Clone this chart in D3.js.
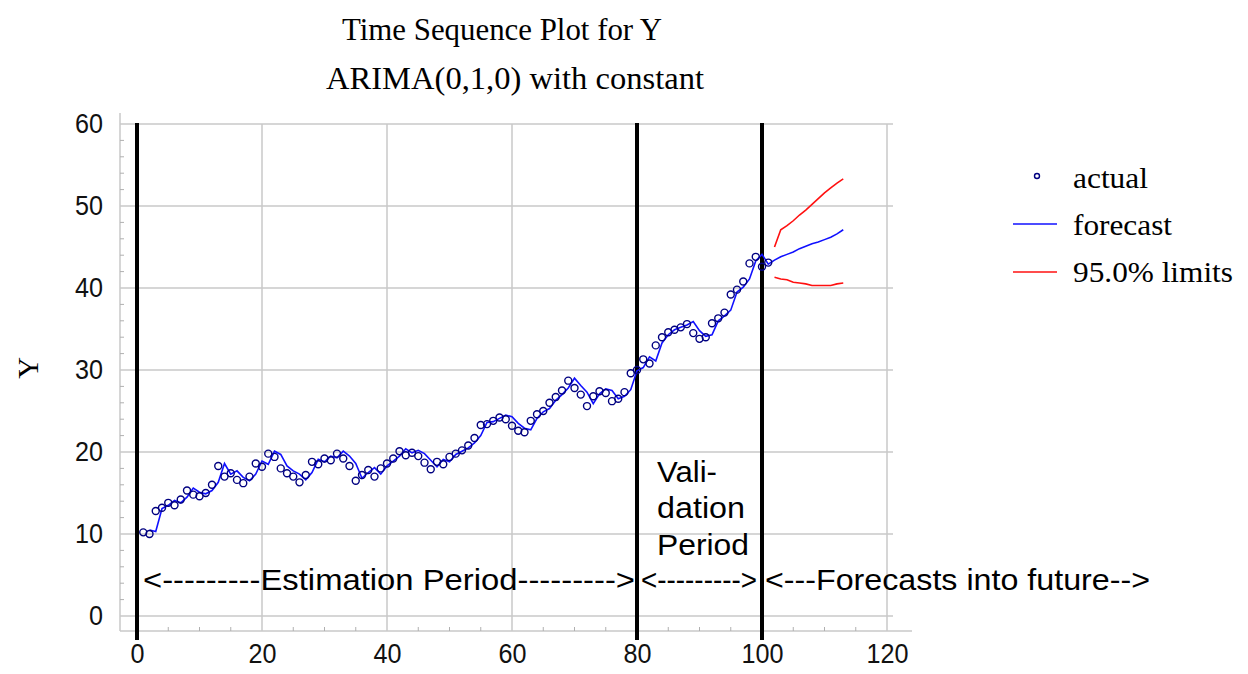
<!DOCTYPE html>
<html>
<head>
<meta charset="utf-8">
<script src="https://cdn.jsdelivr.net/npm/d3@7"></script>
<style>
  body { margin: 0; background: #fff; }
  svg { display: block; }
</style>
</head>
<body>
<div id="chart"></div>
<script>
"use strict";

// actual Y values, periods 1..101
var actual = [10.2, 10.0, 12.8, 13.2, 13.8, 13.5, 14.2, 15.3, 14.8, 14.6,
    15.0, 16.0, 18.3, 17.0, 17.4, 16.6, 16.2, 17.0, 18.6, 18.2,
    19.8, 19.4, 18.0, 17.4, 17.0, 16.3, 17.2, 18.8, 18.5, 19.2,
    19.0, 19.8, 19.2, 18.3, 16.5, 17.2, 17.8, 17.0, 18.0, 18.6,
    19.2, 20.1, 19.6, 19.9, 19.5, 18.7, 17.9, 18.8, 18.5, 19.4,
    19.8, 20.2, 20.8, 21.7, 23.3, 23.4, 23.8, 24.2, 24.0, 23.2,
    22.6, 22.4, 23.8, 24.6, 25.0, 26.0, 26.7, 27.5, 28.7, 27.8,
    27.0, 25.6, 26.8, 27.4, 27.2, 26.2, 26.5, 27.3, 29.6, 30.0,
    31.3, 30.8, 33.0, 34.0, 34.6, 34.9, 35.2, 35.6, 34.5, 33.8,
    34.0, 35.7, 36.3, 37.0, 39.2, 39.8, 40.8, 43.0, 43.8, 42.6,
    43.1];

// forecast line, periods 2..113 (one-step fitted, then out of sample)
var forecast = [10.5, 10.3, 13.1, 13.5, 14.1, 13.8, 14.5, 15.6, 15.1,
    14.9, 15.3, 16.3, 18.6, 17.3, 17.7, 16.9, 16.5, 17.3, 18.9,
    18.5, 20.1, 19.7, 18.3, 17.7, 17.3, 16.6, 17.5, 19.1, 18.8,
    19.5, 19.3, 20.1, 19.5, 18.6, 16.8, 17.5, 18.1, 17.3, 18.3,
    18.9, 19.5, 20.4, 19.9, 20.2, 19.8, 19.0, 18.2, 19.1, 18.8,
    19.7, 20.1, 20.5, 21.1, 22.0, 23.6, 23.7, 24.1, 24.5, 24.3,
    23.5, 22.9, 22.7, 24.1, 24.9, 25.3, 26.3, 27.0, 27.8, 29.0,
    28.1, 27.3, 25.9, 27.1, 27.7, 27.5, 26.5, 26.8, 27.6, 29.9,
    30.3, 31.6, 31.1, 33.3, 34.3, 34.9, 35.2, 35.5, 35.9, 34.8,
    34.1, 34.3, 36.0, 36.6, 37.3, 39.5, 40.1, 41.1, 43.3, 44.1,
    42.9,
    43.4, 43.8, 44.1, 44.4, 44.8, 45.1, 45.4, 45.6, 45.9, 46.2, 46.6, 47.1];

// 95% limits, periods 102..113
var upper = [45.0, 47.1, 47.6, 48.2, 48.9, 49.5, 50.2, 50.9, 51.6, 52.2, 52.8, 53.3];
var lower = [41.3, 41.1, 41.0, 40.7, 40.6, 40.5, 40.3, 40.3, 40.3, 40.3, 40.5, 40.6];

var xTicks = [0, 20, 40, 60, 80, 100, 120];
var yTicks = [0, 10, 20, 30, 40, 50, 60];
var periodLines = [0, 80, 100];

var W = 1248, H = 674;
var grey = "#c8c8c8";
var sans = "'Liberation Sans Narrow', 'Liberation Sans', Arial, sans-serif";
var serif = "'Liberation Serif', 'Times New Roman', serif";

var svg = d3.select("#chart").append("svg")
    .attr("width", W)
    .attr("height", H);

// scales
var x = d3.scaleLinear().domain([0, 120]).range([137, 887]);
var y = d3.scaleLinear().domain([0, 60]).range([616, 124]);

// gridlines
svg.append("g")
    .selectAll("line")
    .data(xTicks.slice(1))
    .enter().append("line")
    .attr("x1", function (d) { return x(d); })
    .attr("x2", function (d) { return x(d); })
    .attr("y1", y(60))
    .attr("y2", 631)
    .style("stroke", grey)
    .style("stroke-width", 1.5);

svg.append("g")
    .selectAll("line")
    .data(yTicks)
    .enter().append("line")
    .attr("x1", 120)
    .attr("x2", 893)
    .attr("y1", function (d) { return y(d); })
    .attr("y2", function (d) { return y(d); })
    .style("stroke", grey)
    .style("stroke-width", 1.5);

// axis lines
svg.append("line")
    .attr("x1", 120).attr("x2", 120)
    .attr("y1", 113).attr("y2", 631)
    .style("stroke", grey).style("stroke-width", 1.5);
svg.append("line")
    .attr("x1", 120).attr("x2", 912)
    .attr("y1", 631).attr("y2", 631)
    .style("stroke", grey).style("stroke-width", 1.5);

// minor ticks
var yMinor = d3.range(0, 61, 2).filter(function (d) { return d % 10 !== 0; });
svg.append("g")
    .selectAll("line")
    .data(yMinor)
    .enter().append("line")
    .attr("x1", 120).attr("x2", 124)
    .attr("y1", function (d) { return y(d); })
    .attr("y2", function (d) { return y(d); })
    .style("stroke", "#b0b0b0");

var xMinor = d3.range(0, 121, 5).filter(function (d) { return d % 20 !== 0; });
svg.append("g")
    .selectAll("line")
    .data(xMinor)
    .enter().append("line")
    .attr("x1", function (d) { return x(d); })
    .attr("x2", function (d) { return x(d); })
    .attr("y1", 631).attr("y2", 627)
    .style("stroke", "#b0b0b0");

// tick labels through d3 axes
var yAxis = svg.append("g")
    .attr("transform", "translate(120,0)")
    .call(d3.axisLeft(y).tickValues(yTicks).tickSize(0).tickPadding(17));
var xAxis = svg.append("g")
    .attr("transform", "translate(0,631)")
    .call(d3.axisBottom(x).tickValues(xTicks).tickSize(0).tickPadding(10));
[yAxis, xAxis].forEach(function (a) {
    a.select(".domain").remove();
    a.selectAll("text")
        .style("font-family", sans)
        .style("font-size", "28px")
        .style("fill", "#111")
        .attr("textLength", function (d) { return String(d).length * 14; })
        .attr("lengthAdjust", "spacingAndGlyphs");
});
xAxis.selectAll("text").attr("dy", "0.78em");

// period separators
svg.append("g")
    .selectAll("line")
    .data(periodLines)
    .enter().append("line")
    .attr("x1", function (d) { return x(d); })
    .attr("x2", function (d) { return x(d); })
    .attr("y1", 123).attr("y2", 640)
    .style("stroke", "#000")
    .style("stroke-width", 4);

// forecast line
var line = d3.line()
    .x(function (d) { return x(d.t); })
    .y(function (d) { return y(d.v); });

var fcData = forecast.map(function (v, i) { return { t: i + 2, v: v }; });
var upData = upper.map(function (v, i) { return { t: i + 102, v: v }; });
var loData = lower.map(function (v, i) { return { t: i + 102, v: v }; });

svg.append("path")
    .datum(fcData)
    .attr("d", line)
    .style("fill", "none")
    .style("stroke", "#1010ff")
    .style("stroke-width", 1.6);

[upData, loData].forEach(function (dd) {
    svg.append("path")
        .datum(dd)
        .attr("d", line)
        .style("fill", "none")
        .style("stroke", "#ff1010")
        .style("stroke-width", 1.6);
});

// actual points
svg.append("g")
    .selectAll("circle")
    .data(actual)
    .enter().append("circle")
    .attr("cx", function (d, i) { return x(i + 1); })
    .attr("cy", function (d) { return y(d); })
    .attr("r", 3.5)
    .style("fill", "none")
    .style("stroke", "#000080")
    .style("stroke-width", 1.4);

// titles
svg.append("text")
    .attr("x", 502).attr("y", 40)
    .attr("text-anchor", "middle")
    .attr("textLength", 320).attr("lengthAdjust", "spacingAndGlyphs")
    .style("font-family", serif).style("font-size", "31px")
    .text("Time Sequence Plot for Y");
svg.append("text")
    .attr("x", 515).attr("y", 89)
    .attr("text-anchor", "middle")
    .attr("textLength", 378).attr("lengthAdjust", "spacingAndGlyphs")
    .style("font-family", serif).style("font-size", "31px")
    .text("ARIMA(0,1,0) with constant");

// y axis title
svg.append("text")
    .attr("transform", "translate(38,368) rotate(-90)")
    .attr("text-anchor", "middle")
    .style("font-family", serif).style("font-size", "30px")
    .text("Y");

// period annotations
var notes = [
    { s: "<---------Estimation Period--------->", x0: 143, w: 492 },
    { s: "<--------->", x0: 641, w: 116 },
    { s: "<---Forecasts into future-->", x0: 765, w: 385 }
];
svg.append("g")
    .selectAll("text")
    .data(notes)
    .enter().append("text")
    .attr("x", function (d) { return d.x0; })
    .attr("y", 590)
    .attr("textLength", function (d) { return d.w; })
    .attr("lengthAdjust", "spacingAndGlyphs")
    .style("font-family", sans).style("font-size", "29px")
    .text(function (d) { return d.s; });

var vali = [{ s: "Vali-", y: 482, w: 60 }, { s: "dation", y: 518, w: 88 }, { s: "Period", y: 555, w: 92 }];
svg.append("g")
    .selectAll("text")
    .data(vali)
    .enter().append("text")
    .attr("x", 657)
    .attr("y", function (d) { return d.y; })
    .attr("textLength", function (d) { return d.w; })
    .attr("lengthAdjust", "spacingAndGlyphs")
    .style("font-family", sans).style("font-size", "29px")
    .text(function (d) { return d.s; });

// legend
var legend = svg.append("g");
legend.append("circle")
    .attr("cx", 1037).attr("cy", 176).attr("r", 2.5)
    .style("fill", "none").style("stroke", "#000080").style("stroke-width", 1.4);
legend.append("line")
    .attr("x1", 1013).attr("x2", 1057).attr("y1", 224).attr("y2", 224)
    .style("stroke", "#1010ff").style("stroke-width", 1.6);
legend.append("line")
    .attr("x1", 1013).attr("x2", 1057).attr("y1", 272).attr("y2", 272)
    .style("stroke", "#ff1010").style("stroke-width", 1.6);

var legendItems = [
    { s: "actual", y: 188, w: 75 },
    { s: "forecast", y: 235, w: 99 },
    { s: "95.0% limits", y: 282, w: 160 }
];
legend.selectAll("text")
    .data(legendItems)
    .enter().append("text")
    .attr("x", 1073)
    .attr("y", function (d) { return d.y; })
    .attr("textLength", function (d) { return d.w; })
    .attr("lengthAdjust", "spacingAndGlyphs")
    .style("font-family", serif).style("font-size", "29px")
    .text(function (d) { return d.s; });
</script>
</body>
</html>
